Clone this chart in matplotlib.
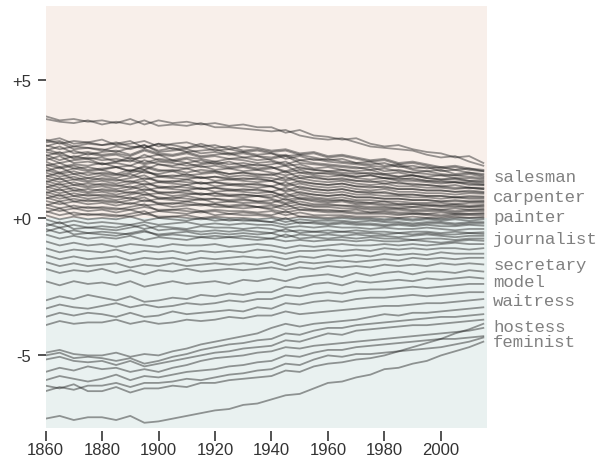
import matplotlib
matplotlib.use("Agg")
import matplotlib.pyplot as plt

# years sampled every 5 years
years = list(range(1860, 2016, 5))

# two lines well above the main band
upper_series = [
    [3.7,3.55,3.6,3.5,3.55,3.45,3.6,3.4,3.55,3.45,3.5,3.4,3.45,3.35,3.4,3.3,3.3,3.1,3.2,3.0,2.95,2.85,2.9,2.7,2.6,2.65,2.5,2.4,2.35,2.2,2.25,2.0],
    [3.6,3.5,3.45,3.55,3.4,3.5,3.4,3.55,3.35,3.4,3.35,3.45,3.3,3.3,3.25,3.2,3.15,3.2,3.0,2.9,2.85,2.9,2.75,2.6,2.55,2.5,2.45,2.3,2.2,2.25,2.05,1.9],
]

# dense band of occupations around zero
band_series = [
    [2.85,2.7,2.8,2.75,2.85,2.65,2.7,2.8,2.6,2.7,2.75,2.6,2.65,2.5,2.6,2.55,2.45,2.5,2.35,2.4,2.25,2.3,2.2,2.1,2.15,2.0,2.05,1.95,1.85,1.9,1.8,1.75],
    [2.75,2.8,2.6,2.7,2.65,2.75,2.6,2.55,2.7,2.5,2.55,2.6,2.45,2.5,2.4,2.45,2.35,2.25,2.3,2.2,2.1,2.15,2.0,2.05,1.9,1.95,1.8,1.85,1.7,1.75,1.65,1.6],
    [2.65,2.5,2.6,2.55,2.45,2.6,2.5,2.65,2.45,2.55,2.4,2.45,2.5,2.35,2.4,2.3,2.35,2.15,2.25,2.1,2.15,2.05,2.0,1.95,2.0,1.85,1.9,1.8,1.85,1.75,1.8,1.7],
    [2.5,2.35,2.45,2.3,2.4,2.45,2.3,2.5,2.35,2.3,2.4,2.25,2.3,2.35,2.2,2.25,2.1,1.95,2.1,2.0,1.95,1.9,1.85,1.75,1.8,1.7,1.65,1.7,1.6,1.55,1.6,1.5],
    [2.4,2.3,2.2,2.35,2.25,2.3,2.15,2.2,2.3,2.1,2.2,2.15,2.05,2.15,2.1,2.0,2.05,1.9,1.95,1.8,1.85,1.75,1.7,1.75,1.6,1.65,1.55,1.5,1.55,1.45,1.45,1.4],
    [2.3,2.1,2.25,2.15,2.2,2.05,2.2,2.0,2.15,2.1,2.0,2.1,1.95,2.05,1.9,1.95,1.85,1.7,1.85,1.75,1.7,1.65,1.6,1.65,1.55,1.5,1.55,1.45,1.4,1.45,1.35,1.35],
    [2.2,2.0,2.1,2.15,1.95,2.05,2.1,1.95,2.05,2.0,1.9,1.95,2.0,1.85,1.9,1.8,1.85,1.65,1.75,1.6,1.65,1.6,1.5,1.55,1.45,1.4,1.45,1.35,1.35,1.3,1.3,1.25],
    [2.05,1.85,1.95,1.9,2.0,1.85,1.9,1.75,1.95,1.85,1.8,1.9,1.75,1.8,1.7,1.75,1.65,1.55,1.65,1.55,1.5,1.55,1.45,1.4,1.45,1.35,1.35,1.3,1.25,1.3,1.2,1.2],
    [1.95,1.8,1.9,1.75,1.8,1.85,1.7,1.85,1.7,1.75,1.65,1.75,1.7,1.6,1.65,1.55,1.6,1.4,1.55,1.45,1.4,1.45,1.35,1.3,1.35,1.25,1.25,1.2,1.15,1.2,1.1,1.1],
    [1.85,1.65,1.8,1.7,1.75,1.6,1.75,1.65,1.6,1.7,1.55,1.6,1.65,1.5,1.55,1.5,1.45,1.35,1.45,1.35,1.3,1.35,1.25,1.2,1.25,1.15,1.15,1.1,1.1,1.05,1.1,1.05],
    [1.75,1.6,1.7,1.55,1.65,1.6,1.5,1.7,1.55,1.5,1.6,1.45,1.5,1.45,1.4,1.45,1.35,1.2,1.35,1.25,1.2,1.25,1.15,1.1,1.15,1.05,1.05,1.0,1.0,0.95,1.0,0.95],
    [1.65,1.5,1.6,1.45,1.55,1.45,1.6,1.4,1.5,1.45,1.4,1.5,1.35,1.4,1.35,1.3,1.35,1.15,1.25,1.15,1.1,1.15,1.05,1.0,1.05,0.95,0.95,0.9,0.9,0.85,0.9,0.88],
    [1.55,1.4,1.5,1.35,1.45,1.4,1.3,1.45,1.35,1.3,1.4,1.25,1.3,1.25,1.2,1.25,1.15,1.0,1.15,1.05,1.0,1.05,0.95,0.9,0.95,0.85,0.85,0.8,0.8,0.75,0.8,0.78],
    [1.45,1.3,1.4,1.3,1.35,1.25,1.35,1.2,1.3,1.25,1.2,1.3,1.15,1.2,1.15,1.1,1.15,0.95,1.05,0.95,0.9,0.95,0.85,0.85,0.8,0.8,0.75,0.75,0.7,0.75,0.7,0.7],
    [1.35,1.2,1.3,1.15,1.25,1.2,1.1,1.25,1.15,1.1,1.2,1.05,1.1,1.05,1.0,1.05,0.95,0.8,0.95,0.85,0.8,0.85,0.75,0.75,0.7,0.7,0.65,0.65,0.6,0.65,0.6,0.62],
    [1.25,1.1,1.2,1.1,1.15,1.05,1.15,1.0,1.1,1.05,1.0,1.1,0.95,1.0,0.95,0.9,0.95,0.75,0.85,0.75,0.7,0.75,0.65,0.65,0.6,0.6,0.55,0.55,0.55,0.5,0.55,0.55],
    [1.15,1.0,1.1,0.95,1.05,1.0,0.9,1.05,0.95,0.9,1.0,0.85,0.9,0.85,0.85,0.8,0.85,0.65,0.75,0.7,0.65,0.65,0.6,0.55,0.6,0.5,0.5,0.5,0.45,0.5,0.45,0.48],
    [1.05,0.9,1.0,0.9,0.95,0.85,0.95,0.85,0.9,0.8,0.85,0.9,0.8,0.8,0.75,0.8,0.7,0.55,0.7,0.6,0.55,0.6,0.5,0.5,0.45,0.45,0.4,0.45,0.4,0.4,0.4,0.4],
    [0.95,0.8,0.9,0.8,0.85,0.8,0.7,0.85,0.75,0.7,0.8,0.7,0.7,0.65,0.7,0.6,0.65,0.5,0.6,0.5,0.5,0.45,0.45,0.4,0.4,0.35,0.4,0.35,0.3,0.35,0.3,0.33],
    [0.85,0.7,0.8,0.7,0.75,0.65,0.75,0.6,0.7,0.65,0.6,0.7,0.55,0.6,0.55,0.55,0.5,0.4,0.5,0.4,0.4,0.35,0.35,0.3,0.3,0.3,0.25,0.25,0.25,0.2,0.25,0.25],
    [0.75,0.6,0.7,0.6,0.65,0.6,0.5,0.65,0.55,0.5,0.6,0.5,0.5,0.45,0.5,0.4,0.45,0.3,0.4,0.3,0.3,0.25,0.3,0.2,0.25,0.2,0.2,0.15,0.2,0.15,0.15,0.18],
    [0.62,0.5,0.6,0.5,0.55,0.45,0.55,0.45,0.5,0.4,0.45,0.5,0.4,0.4,0.35,0.4,0.3,0.2,0.3,0.25,0.2,0.2,0.15,0.15,0.15,0.1,0.15,0.1,0.05,0.1,0.1,0.1],
    [0.5,0.35,0.45,0.35,0.4,0.35,0.3,0.4,0.3,0.3,0.35,0.25,0.3,0.25,0.25,0.2,0.25,0.1,0.2,0.1,0.1,0.1,0.05,0.05,0.05,0.0,0.05,0.0,0.0,0.05,0.0,0.04],
    [0.38,0.25,0.35,0.25,0.3,0.2,0.3,0.15,0.25,0.2,0.15,0.25,0.1,0.15,0.1,0.1,0.05,-0.05,0.05,0.0,-0.05,0.0,-0.05,-0.05,-0.1,-0.05,-0.1,-0.05,-0.1,-0.05,-0.1,-0.05],
    [0.25,0.1,0.2,0.1,0.15,0.1,0.05,0.15,0.05,0.05,0.1,0.0,0.05,0.0,0.0,-0.05,0.0,-0.15,-0.05,-0.1,-0.1,-0.1,-0.15,-0.1,-0.15,-0.15,-0.2,-0.15,-0.15,-0.2,-0.15,-0.15],
    [0.1,-0.05,0.05,-0.05,0.0,-0.05,0.05,-0.1,0.0,-0.05,-0.1,0.0,-0.1,-0.05,-0.1,-0.1,-0.15,-0.25,-0.15,-0.2,-0.25,-0.2,-0.25,-0.25,-0.3,-0.25,-0.3,-0.25,-0.3,-0.3,-0.25,-0.28],
    [-0.05,-0.2,-0.1,-0.2,-0.15,-0.2,-0.25,-0.15,-0.25,-0.2,-0.15,-0.25,-0.2,-0.25,-0.2,-0.25,-0.25,-0.35,-0.3,-0.35,-0.3,-0.35,-0.35,-0.4,-0.35,-0.4,-0.4,-0.35,-0.4,-0.45,-0.4,-0.4],
    [-0.2,-0.35,-0.25,-0.35,-0.3,-0.35,-0.25,-0.4,-0.3,-0.35,-0.4,-0.3,-0.35,-0.35,-0.4,-0.35,-0.4,-0.5,-0.45,-0.5,-0.45,-0.5,-0.45,-0.5,-0.5,-0.55,-0.5,-0.5,-0.55,-0.5,-0.55,-0.52],
    [-0.4,-0.55,-0.45,-0.55,-0.5,-0.55,-0.6,-0.5,-0.6,-0.55,-0.5,-0.6,-0.55,-0.6,-0.55,-0.6,-0.55,-0.7,-0.6,-0.65,-0.6,-0.65,-0.6,-0.65,-0.65,-0.7,-0.65,-0.6,-0.65,-0.7,-0.65,-0.65],
    [-0.6,-0.75,-0.65,-0.75,-0.7,-0.75,-0.65,-0.8,-0.7,-0.75,-0.8,-0.7,-0.75,-0.7,-0.75,-0.8,-0.75,-0.85,-0.8,-0.85,-0.8,-0.8,-0.85,-0.8,-0.85,-0.85,-0.8,-0.85,-0.9,-0.85,-0.8,-0.83],
    [-0.85,-1.0,-0.9,-1.0,-0.95,-1.05,-0.95,-1.0,-1.05,-0.95,-1.0,-1.0,-0.95,-1.05,-1.0,-0.95,-1.0,-1.1,-1.0,-1.05,-1.0,-0.95,-1.0,-1.0,-0.95,-1.0,-0.95,-1.0,-0.95,-0.9,-0.95,-0.95],
    [-1.1,-1.25,-1.15,-1.2,-1.25,-1.15,-1.3,-1.2,-1.25,-1.2,-1.3,-1.2,-1.25,-1.2,-1.25,-1.15,-1.2,-1.3,-1.2,-1.2,-1.15,-1.2,-1.15,-1.2,-1.1,-1.15,-1.1,-1.15,-1.1,-1.1,-1.15,-1.1],
    [-1.35,-1.5,-1.4,-1.5,-1.45,-1.4,-1.55,-1.45,-1.5,-1.45,-1.55,-1.45,-1.5,-1.45,-1.4,-1.45,-1.4,-1.5,-1.4,-1.45,-1.35,-1.4,-1.35,-1.4,-1.3,-1.35,-1.3,-1.35,-1.25,-1.3,-1.3,-1.3],
    [-1.6,-1.75,-1.65,-1.75,-1.7,-1.65,-1.8,-1.7,-1.75,-1.65,-1.75,-1.7,-1.65,-1.7,-1.65,-1.7,-1.6,-1.75,-1.6,-1.65,-1.6,-1.55,-1.6,-1.55,-1.5,-1.55,-1.45,-1.5,-1.45,-1.5,-1.45,-1.45],
    [-1.85,-2.0,-1.9,-1.95,-1.85,-2.0,-1.9,-2.05,-1.9,-1.95,-1.85,-1.95,-1.9,-1.85,-1.9,-1.85,-1.8,-1.9,-1.8,-1.85,-1.75,-1.8,-1.75,-1.8,-1.7,-1.75,-1.7,-1.75,-1.65,-1.7,-1.65,-1.69],
    # more band lines with the shared jumps of 1865, 1895 and 1945
    [2.8,2.9,2.7,2.75,2.65,2.7,2.8,2.55,2.7,2.65,2.55,2.7,2.55,2.6,2.45,2.5,2.4,2.45,2.3,2.35,2.2,2.25,2.15,2.05,2.1,1.95,2.0,1.9,1.8,1.85,1.75,1.7],
    [2.6,2.75,2.5,2.55,2.5,2.4,2.55,2.65,2.4,2.45,2.5,2.35,2.4,2.3,2.35,2.25,2.2,2.3,2.1,2.15,2.05,2.0,1.95,1.9,1.85,1.9,1.75,1.7,1.75,1.6,1.65,1.55],
    [2.45,2.6,2.35,2.4,2.3,2.35,2.25,2.45,2.3,2.25,2.35,2.2,2.25,2.15,2.2,2.1,2.15,2.25,2.0,1.95,1.9,1.85,1.8,1.85,1.7,1.75,1.65,1.6,1.55,1.55,1.5,1.45],
    [2.25,2.4,2.15,2.2,2.1,2.15,2.05,2.3,2.1,2.05,2.15,2.0,2.05,1.95,2.0,1.9,1.95,2.05,1.8,1.75,1.7,1.75,1.65,1.6,1.6,1.5,1.55,1.45,1.4,1.4,1.35,1.3],
    [2.1,2.25,2.0,2.05,1.95,2.0,1.9,2.1,1.95,1.9,2.0,1.85,1.9,1.8,1.85,1.75,1.8,1.9,1.65,1.65,1.6,1.55,1.5,1.55,1.45,1.45,1.4,1.35,1.3,1.3,1.25,1.2],
    [1.9,2.0,1.8,1.85,1.75,1.85,1.7,1.9,1.75,1.7,1.8,1.65,1.7,1.6,1.65,1.6,1.55,1.7,1.45,1.5,1.4,1.4,1.35,1.35,1.25,1.3,1.2,1.2,1.15,1.1,1.1,1.05],
    [1.7,1.85,1.6,1.65,1.6,1.55,1.65,1.75,1.5,1.55,1.5,1.45,1.5,1.4,1.45,1.4,1.35,1.5,1.3,1.25,1.2,1.25,1.15,1.15,1.1,1.05,1.05,1.0,1.0,0.95,0.95,0.92],
    [1.5,1.65,1.4,1.45,1.4,1.35,1.45,1.55,1.3,1.35,1.3,1.25,1.3,1.2,1.25,1.2,1.15,1.3,1.1,1.05,1.0,1.05,0.95,0.95,0.9,0.85,0.85,0.8,0.8,0.75,0.75,0.75],
    [1.3,1.45,1.2,1.25,1.2,1.15,1.25,1.35,1.1,1.15,1.1,1.05,1.1,1.0,1.05,1.0,0.95,1.1,0.9,0.85,0.8,0.85,0.75,0.75,0.7,0.7,0.65,0.65,0.6,0.6,0.6,0.6],
    [1.1,1.25,1.0,1.05,1.0,0.95,1.05,1.15,0.9,0.95,0.9,0.85,0.9,0.8,0.85,0.8,0.75,0.9,0.7,0.65,0.6,0.65,0.55,0.55,0.5,0.5,0.5,0.45,0.45,0.45,0.4,0.45],
    [0.9,1.05,0.8,0.85,0.8,0.75,0.85,0.95,0.7,0.75,0.7,0.65,0.7,0.6,0.65,0.6,0.55,0.7,0.5,0.45,0.45,0.45,0.4,0.35,0.35,0.35,0.3,0.3,0.3,0.25,0.3,0.3],
    [0.7,0.85,0.6,0.65,0.6,0.55,0.65,0.75,0.5,0.55,0.5,0.45,0.5,0.4,0.45,0.4,0.35,0.5,0.3,0.3,0.25,0.25,0.2,0.2,0.2,0.15,0.15,0.15,0.1,0.15,0.15,0.15],
    [0.45,0.6,0.35,0.4,0.35,0.3,0.4,0.5,0.25,0.3,0.25,0.2,0.25,0.15,0.2,0.15,0.1,0.25,0.05,0.05,0.0,0.05,0.0,0.0,-0.05,0.0,-0.05,0.0,-0.05,0.0,0.0,0.0],
    [0.2,0.35,0.1,0.15,0.1,0.05,0.15,0.25,0.0,0.05,0.0,-0.05,0.0,-0.1,-0.05,-0.1,-0.15,0.0,-0.2,-0.15,-0.2,-0.15,-0.2,-0.2,-0.25,-0.2,-0.25,-0.2,-0.2,-0.25,-0.2,-0.2],
    [-0.3,-0.15,-0.4,-0.35,-0.4,-0.45,-0.35,-0.25,-0.45,-0.4,-0.45,-0.5,-0.45,-0.5,-0.45,-0.5,-0.55,-0.4,-0.55,-0.5,-0.55,-0.5,-0.55,-0.55,-0.6,-0.55,-0.6,-0.55,-0.6,-0.6,-0.55,-0.58],
    [-0.5,-0.35,-0.6,-0.55,-0.6,-0.65,-0.55,-0.45,-0.65,-0.6,-0.65,-0.7,-0.65,-0.7,-0.65,-0.7,-0.75,-0.6,-0.75,-0.7,-0.75,-0.7,-0.75,-0.7,-0.75,-0.75,-0.8,-0.75,-0.75,-0.8,-0.75,-0.75],
]

# sparse lines below the band
lower_series = [
    [-2.3,-2.45,-2.3,-2.4,-2.35,-2.45,-2.3,-2.5,-2.4,-2.3,-2.4,-2.35,-2.3,-2.4,-2.25,-2.3,-2.2,-2.3,-2.15,-2.1,-2.05,-2.15,-2.0,-2.1,-2.0,-1.95,-2.05,-1.95,-1.95,-2.0,-1.9,-1.95],
    [-3.0,-2.85,-2.95,-2.8,-2.9,-3.0,-2.85,-3.05,-3.0,-2.9,-2.95,-2.8,-2.85,-2.75,-2.8,-2.7,-2.7,-2.5,-2.55,-2.4,-2.35,-2.45,-2.3,-2.35,-2.3,-2.25,-2.3,-2.2,-2.25,-2.2,-2.15,-2.2],
    [-3.3,-3.15,-3.25,-3.3,-3.2,-3.1,-3.25,-3.15,-3.25,-3.2,-3.1,-3.15,-3.1,-3.0,-3.05,-2.95,-2.95,-2.8,-2.85,-2.75,-2.7,-2.75,-2.65,-2.6,-2.6,-2.55,-2.5,-2.55,-2.5,-2.45,-2.4,-2.4],
    [-3.6,-3.45,-3.55,-3.45,-3.5,-3.6,-3.45,-3.6,-3.55,-3.4,-3.5,-3.45,-3.4,-3.35,-3.4,-3.25,-3.3,-3.1,-3.15,-3.05,-3.0,-3.05,-2.95,-2.9,-2.9,-2.85,-2.8,-2.85,-2.8,-2.75,-2.7,-2.7],
    [-3.9,-3.75,-3.85,-3.8,-3.8,-3.7,-3.85,-3.75,-3.85,-3.8,-3.7,-3.75,-3.7,-3.6,-3.65,-3.55,-3.55,-3.4,-3.5,-3.45,-3.4,-3.35,-3.3,-3.25,-3.2,-3.2,-3.15,-3.1,-3.1,-3.05,-3.0,-2.95],
    [-4.9,-4.8,-4.95,-5.0,-5.0,-4.9,-5.05,-4.95,-5.0,-4.85,-4.75,-4.6,-4.5,-4.4,-4.3,-4.2,-4.0,-3.85,-3.95,-3.85,-3.8,-3.75,-3.7,-3.6,-3.5,-3.55,-3.45,-3.45,-3.4,-3.35,-3.3,-3.25],
    [-5.0,-4.9,-5.1,-5.05,-5.1,-5.2,-5.1,-5.3,-5.2,-5.05,-4.95,-4.8,-4.7,-4.6,-4.55,-4.45,-4.4,-4.2,-4.25,-4.1,-4.0,-4.0,-3.9,-3.85,-3.8,-3.75,-3.7,-3.65,-3.6,-3.6,-3.55,-3.5],
    [-5.15,-5.05,-5.2,-5.25,-5.2,-5.35,-5.2,-5.4,-5.3,-5.2,-5.1,-5.0,-4.9,-4.85,-4.75,-4.7,-4.65,-4.45,-4.5,-4.35,-4.2,-4.25,-4.1,-4.05,-4.0,-3.95,-3.9,-3.9,-3.85,-3.8,-3.75,-3.7],
    [-5.6,-5.45,-5.55,-5.4,-5.5,-5.45,-5.6,-5.5,-5.6,-5.45,-5.35,-5.2,-5.1,-5.05,-5.0,-4.9,-4.85,-4.7,-4.75,-4.65,-4.6,-4.55,-4.5,-4.45,-4.4,-4.35,-4.3,-4.25,-4.2,-4.15,-4.1,-4.0],
    [-5.9,-5.75,-5.85,-5.95,-5.85,-5.7,-5.9,-5.75,-5.8,-5.7,-5.6,-5.55,-5.5,-5.4,-5.35,-5.25,-5.2,-5.0,-5.05,-4.9,-4.8,-4.8,-4.7,-4.65,-4.6,-4.55,-4.5,-4.45,-4.4,-4.4,-4.35,-4.3],
    [-6.3,-6.15,-6.25,-6.1,-6.1,-6.0,-6.15,-6.0,-6.0,-5.95,-5.85,-5.9,-5.8,-5.7,-5.65,-5.55,-5.5,-5.3,-5.35,-5.15,-5.0,-5.05,-4.95,-4.95,-4.9,-4.85,-4.8,-4.75,-4.7,-4.6,-4.5,-4.35],
    [-6.1,-6.2,-6.05,-6.3,-6.3,-6.15,-6.35,-6.2,-6.2,-6.1,-6.15,-6.0,-6.0,-5.9,-5.85,-5.8,-5.75,-5.55,-5.6,-5.4,-5.3,-5.25,-5.15,-5.1,-5.0,-4.85,-4.7,-4.55,-4.4,-4.2,-4.05,-3.85],
    [-7.3,-7.2,-7.35,-7.25,-7.25,-7.35,-7.2,-7.45,-7.4,-7.3,-7.2,-7.1,-7.0,-6.95,-6.8,-6.75,-6.6,-6.45,-6.4,-6.2,-6.0,-5.95,-5.8,-5.7,-5.5,-5.45,-5.3,-5.2,-5.0,-4.85,-4.7,-4.5],
]

label_words = ["salesman", "carpenter", "painter", "journalist", "secretary",
               "model", "waitress", "hostess", "feminist"]
label_y = [1.33, 0.63, -0.10, -0.92, -1.85, -2.48, -3.16, -4.13, -4.64]

x_ticks = [1860, 1880, 1900, 1920, 1940, 1960, 1980, 2000]
y_ticks = [5, 0, -5]
y_ticklabels = ["+5", "+0", "-5"]

fig = plt.figure(figsize=(5.99, 4.60), dpi=100)
ax = fig.add_axes([0.0760, 0.0674, 0.7370, 0.9174])
ymin, ymax = -7.64, 7.71
ax.set_xlim(1860, 2016.3)
ax.set_ylim(ymin, ymax)

# background halves
ax.axhspan(0, ymax, color="#f8efea", lw=0, zorder=0)
ax.axhspan(ymin, 0, color="#e9f1f0", lw=0, zorder=0)

for s in upper_series + band_series + lower_series:
    ax.plot(years, s, color="#1e1e1e", lw=1.3, alpha=0.45, zorder=2)

for w, y in zip(label_words, label_y):
    ax.text(2018.5, y, w, family="Liberation Mono", fontsize=12.5,
            color="#808080", va="baseline", ha="left", clip_on=False)

for sp in ax.spines.values():
    sp.set_visible(False)

# x tick marks as short vertical strokes just under the plot area
ax.vlines(x_ticks, -0.008, -0.03, transform=ax.get_xaxis_transform(),
          colors="#444444", lw=1.3, clip_on=False)

ax.set_xticks(x_ticks)
ax.set_xticklabels([str(t) for t in x_ticks])
ax.set_yticks(y_ticks)
ax.set_yticklabels(y_ticklabels)
ax.tick_params(axis="x", which="major", length=0, pad=10,
               labelsize=12, labelcolor="#333333")
ax.tick_params(axis="y", which="major", left=True, direction="out",
               length=5.5, width=1.3, color="#444444", pad=5,
               labelsize=12, labelcolor="#333333")
for lab in ax.get_xticklabels() + ax.get_yticklabels():
    lab.set_family("Liberation Sans")

fig.savefig("out.png", dpi=100, facecolor="white")
